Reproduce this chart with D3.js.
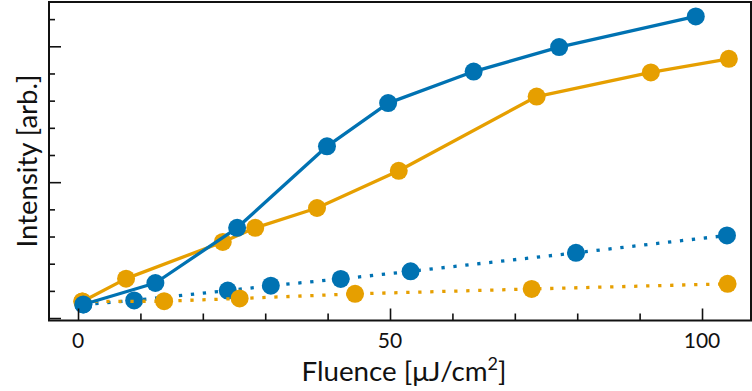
<!DOCTYPE html>
<html>
<head>
<meta charset="utf-8">
<script src="https://cdn.jsdelivr.net/npm/d3@7"></script>
<style>
  html, body { margin: 0; padding: 0; background: #fff; }
  svg { display: block; }
  text { font-family: "Lato", "Open Sans", sans-serif; fill: #111; }
</style>
</head>
<body>
<svg id="chart" width="752" height="391"></svg>
<script>
// ---- data ----
const blueSolidX   = [0.85, 12.4, 25.5, 39.9, 49.7, 63.4, 77.1, 99.0];
const blueSolidY   = [0.50, 1.29, 3.32, 6.32, 7.91, 9.07, 9.97, 11.10];
const orangeSolidX = [0.7, 7.7, 23.2, 28.4, 38.3, 51.4, 73.5, 91.8, 104.3];
const orangeSolidY = [0.61, 1.45, 2.80, 3.32, 4.05, 5.42, 8.15, 9.04, 9.54];
const blueDotX     = [0.85, 9.0, 24.0, 30.9, 42.1, 53.3, 79.8, 104.0];
const blueDotY     = [0.50, 0.65, 1.01, 1.19, 1.44, 1.72, 2.40, 3.04];
const orangeDotX   = [0.7, 13.8, 25.9, 44.4, 72.7, 104.1];
const orangeDotY   = [0.61, 0.62, 0.72, 0.89, 1.07, 1.26];

const xMajorTicks = [0, 50, 100];
const xMinorTicks = [10, 20, 30, 40, 60, 70, 80, 90];
const yMajorTicks = [0, 5, 10];
const yMinorTicks = [1, 2, 3, 4, 6, 7, 8, 9, 11];

const xLabel = "Fluence [\u03BCJ/cm";
const yLabel = "Intensity [arb.]";

const BLUE = "#0072B2";
const ORANGE = "#E69F00";

// ---- layout ----
const svg = d3.select("#chart");
const mLeft = 49, mRight = 751, mTop = 2, mBottom = 320.5;

const x = d3.scaleLinear().domain([-4.65, 107.85]).range([mLeft, mRight]);
const y = d3.scaleLinear().domain([-0.09, 11.63]).range([mBottom, mTop]);

const zip = (xs, ys) => xs.map((v, i) => ({x: v, y: ys[i]}));
const line = d3.line().x(d => x(d.x)).y(d => y(d.y));

const series = [
  {data: zip(blueDotX, blueDotY), color: BLUE, dotted: true},
  {data: zip(orangeDotX, orangeDotY), color: ORANGE, dotted: true},
  {data: zip(orangeSolidX, orangeSolidY), color: ORANGE, dotted: false},
  {data: zip(blueSolidX, blueSolidY), color: BLUE, dotted: false}
];

const plot = svg.append("g");
series.forEach(s => {
  plot.append("path")
    .datum(s.data)
    .attr("d", line)
    .attr("fill", "none")
    .attr("stroke", s.color)
    .attr("stroke-width", 3.3)
    .attr("stroke-dasharray", s.dotted ? "3.3 8.7" : null)
    .attr("stroke-linejoin", "round");
  plot.selectAll(null)
    .data(s.data)
    .enter().append("circle")
    .attr("cx", d => x(d.x))
    .attr("cy", d => y(d.y))
    .attr("r", 9)
    .attr("fill", s.color);
});

// ---- axes (ticks inward) ----
const xAxisMajor = d3.axisTop(x).tickValues(xMajorTicks).tickSizeInner(12).tickSizeOuter(0).tickFormat("");
const xAxisMinor = d3.axisTop(x).tickValues(xMinorTicks).tickSizeInner(7).tickSizeOuter(0).tickFormat("");
const yAxisMajor = d3.axisRight(y).tickValues(yMajorTicks).tickSizeInner(12).tickSizeOuter(0).tickFormat("");
const yAxisMinor = d3.axisRight(y).tickValues(yMinorTicks).tickSizeInner(6).tickSizeOuter(0).tickFormat("");

function styleAxis(g) {
  g.select(".domain").remove();
  g.selectAll(".tick line").attr("stroke", "#111").attr("stroke-width", 1.6);
}
svg.append("g").attr("transform", `translate(0,${mBottom})`).call(xAxisMajor).call(styleAxis);
svg.append("g").attr("transform", `translate(0,${mBottom})`).call(xAxisMinor).call(styleAxis);
svg.append("g").attr("transform", `translate(${mLeft},0)`).call(yAxisMajor).call(styleAxis);
svg.append("g").attr("transform", `translate(${mLeft},0)`).call(yAxisMinor).call(styleAxis);

// tick labels
svg.append("g").selectAll("text")
  .data(xMajorTicks)
  .enter().append("text")
  .attr("x", d => x(d))
  .attr("y", 348)
  .attr("text-anchor", "middle")
  .attr("font-size", 21)
  .text(d => d);

// frame
svg.append("rect")
  .attr("x", mLeft).attr("y", mTop)
  .attr("width", mRight - mLeft).attr("height", mBottom - mTop)
  .attr("fill", "none").attr("stroke", "#111").attr("stroke-width", 2);

// axis labels
const xl = svg.append("text")
  .attr("x", 404).attr("y", 381)
  .attr("text-anchor", "middle")
  .attr("font-size", 25);
xl.append("tspan").text(xLabel);
xl.append("tspan").attr("font-size", 16).attr("dy", -10).text("2");
xl.append("tspan").attr("dy", 10).text("]");

const yl = svg.append("text")
  .attr("transform", "translate(37,161) rotate(-90)")
  .attr("text-anchor", "middle")
  .attr("font-size", 25)
  .text(yLabel);

// fit label widths to the reference
function fit(sel, target) {
  const w = sel.node().getBBox().width;
  const fs = parseFloat(sel.attr("font-size"));
  const nf = fs * target / w;
  sel.attr("font-size", nf);
  sel.selectAll("tspan").each(function() {
    const t = d3.select(this);
    if (t.text() === "2") t.attr("font-size", nf * 0.65).attr("dy", -nf * 0.4);
    else if (t.text() === "]") t.attr("dy", nf * 0.4);
  });
}
fit(xl, 205);
fit(yl, 173);
</script>
</body>
</html>
